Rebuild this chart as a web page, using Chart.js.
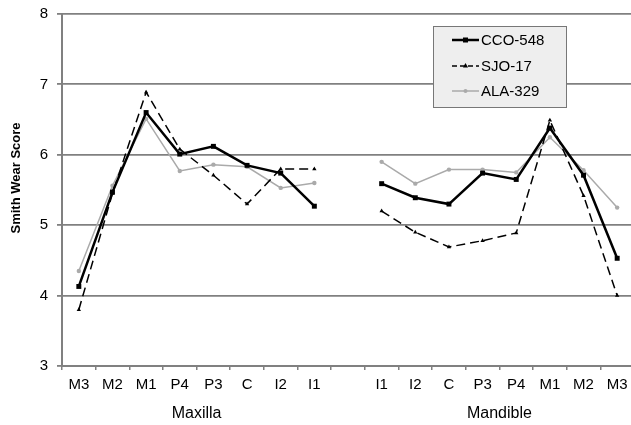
<!DOCTYPE html>
<html><head><meta charset="utf-8">
<script src="https://cdn.jsdelivr.net/npm/chart.js@4.4.0/dist/chart.umd.min.js"></script>
<style>html,body{margin:0;padding:0;background:#fff;overflow:hidden;width:631px;height:425px}#wrap{width:638px;height:425px;position:relative}</style>
</head><body><div id="wrap"><canvas id="c"></canvas></div>
<script>
const categories = ["M3","M2","M1","P4","P3","C","I2","I1","","I1","I2","C","P3","P4","M1","M2","M3"];
const cco548 = [4.13,5.47,6.60,6.01,6.12,5.85,5.74,5.27,null,5.59,5.39,5.30,5.74,5.65,6.38,5.71,4.53];
const sjo17  = [3.80,5.45,6.89,6.08,5.71,5.30,5.80,5.80,null,5.20,4.90,4.69,4.78,4.89,6.49,5.42,4.00];
const ala329 = [4.35,5.56,6.51,5.77,5.86,5.83,5.53,5.60,null,5.90,5.59,5.79,5.79,5.75,6.25,5.78,5.25];
const groupLabels = ["Maxilla","Mandible"];
const yTitle = "Smith Wear Score";

const FONT = "'Liberation Sans', Arial, sans-serif";

const extras = {
  id:'extras',
  afterDraw(chart){
    const ctx = chart.ctx, x = chart.scales.x;
    ctx.save();
    ctx.fillStyle = '#000';
    ctx.font = '16px ' + FONT;
    ctx.textAlign = 'center'; ctx.textBaseline = 'middle';
    const c1 = (x.getPixelForValue(3) + x.getPixelForValue(4)) / 2;
    const c2 = (x.getPixelForValue(12) + x.getPixelForValue(13)) / 2;
    ctx.fillText(groupLabels[0], c1, 414);
    ctx.fillText(groupLabels[1], c2, 414);
    // y title
    ctx.save();
    ctx.translate(16, 178); ctx.rotate(-Math.PI/2);
    ctx.font = 'bold 13px ' + FONT;
    ctx.fillText(yTitle, 0, 0);
    ctx.restore();
    // legend box
    const bx = 433, by = 26, bw = 133, bh = 81;
    ctx.fillStyle = '#eeeeee'; ctx.fillRect(bx, by, bw, bh);
    ctx.strokeStyle = '#777'; ctx.lineWidth = 1; ctx.strokeRect(bx+0.5, by+0.5, bw, bh);
    const rows = [40, 66, 91];
    chart.data.datasets.forEach((ds, i) => {
      const yy = rows[i];
      ctx.strokeStyle = ds.borderColor; ctx.lineWidth = ds.borderWidth;
      ctx.setLineDash(ds.borderDash ? [5,3] : []);
      ctx.beginPath(); ctx.moveTo(452, yy); ctx.lineTo(479, yy); ctx.stroke();
      ctx.setLineDash([]);
      ctx.fillStyle = ds.pointBackgroundColor;
      if (ds.pointStyle === 'rect') ctx.fillRect(463, yy-2.5, 5, 5);
      else if (ds.pointStyle === 'triangle') { ctx.beginPath(); ctx.moveTo(465.5, yy-3); ctx.lineTo(468, yy+1.5); ctx.lineTo(463, yy+1.5); ctx.fill(); }
      else { ctx.beginPath(); ctx.arc(465.5, yy, 2, 0, Math.PI*2); ctx.fill(); }
      ctx.fillStyle = '#000'; ctx.font = '15px ' + FONT; ctx.textAlign = 'left';
      ctx.fillText(ds.label, 481, yy + 1);
    });
    ctx.restore();
  }
};

new Chart(document.getElementById('c'), {
  type: 'line',
  data: {
    labels: categories,
    datasets: [
      {label:'CCO-548', data:cco548, borderColor:'#000', backgroundColor:'#000', pointBackgroundColor:'#000', borderWidth:2.5, pointStyle:'rect', pointRadius:3.5, pointBorderWidth:0, spanGaps:false, tension:0},
      {label:'SJO-17', data:sjo17, borderColor:'#000', backgroundColor:'#000', pointBackgroundColor:'#000', borderWidth:1.5, borderDash:[9,5], pointStyle:'triangle', pointRadius:2.5, pointBorderWidth:0, spanGaps:false, tension:0},
      {label:'ALA-329', data:ala329, borderColor:'#aaaaaa', backgroundColor:'#aaaaaa', pointBackgroundColor:'#aaaaaa', borderWidth:1.5, pointStyle:'circle', pointRadius:2.2, pointBorderWidth:0, spanGaps:false, tension:0}
    ]
  },
  options: {
    responsive:true, maintainAspectRatio:false, animation:false,
    layout:{padding:{top:14, right:2, left:0, bottom:0}},
    plugins:{legend:{display:false}, tooltip:{enabled:false}},
    scales:{
      x:{
        offset:true,
        grid:{offset:true, drawOnChartArea:false, drawTicks:true, tickLength:4, color:'#808080', lineWidth:1.5},
        border:{color:'#808080', width:2},
        ticks:{color:'#000', font:{family:FONT, size:15}, maxRotation:0, autoSkip:false, padding:6},
        afterFit(s){ s.height = 59; s.paddingLeft = 0; s.paddingRight = 0; }
      },
      y:{
        min:3, max:8,
        ticks:{stepSize:1, color:'#000', font:{family:FONT, size:15}, padding:9},
        grid:{color:'#808080', lineWidth:1.8, tickLength:5},
        border:{color:'#808080', width:2},
        afterFit(s){ s.width = 62; s.paddingTop = 0; s.paddingBottom = 0; }
      }
    }
  },
  plugins:[extras]
});
</script></body></html>
